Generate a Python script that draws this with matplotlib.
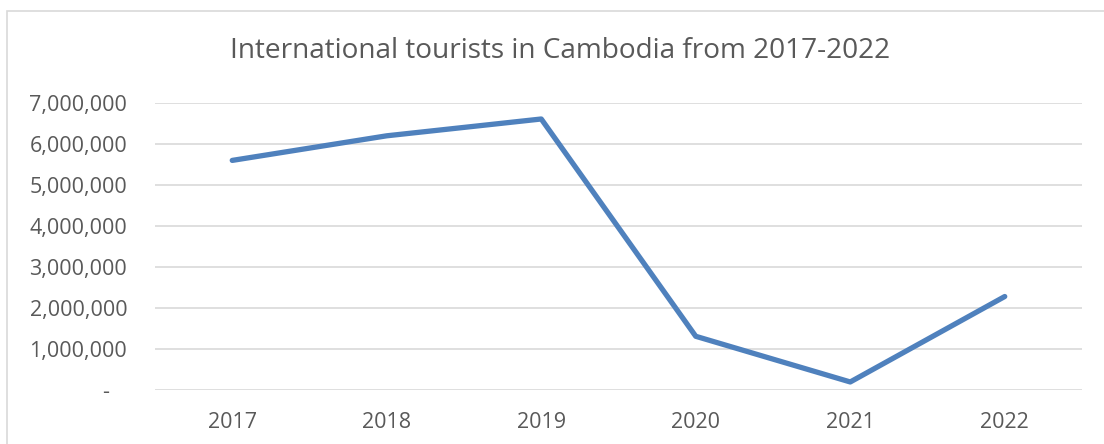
import matplotlib.pyplot as plt
from matplotlib.patches import Rectangle
from matplotlib.ticker import FuncFormatter

years = ["2017", "2018", "2019", "2020", "2021", "2022"]
tourists = [5600000, 6200000, 6610000, 1310000, 196000, 2280000]
y_ticks = [0, 1000000, 2000000, 3000000, 4000000, 5000000, 6000000, 7000000]

W, H = 1104, 444
fig = plt.figure(figsize=(W / 100, H / 100), dpi=100)
plt.rcParams["font.family"] = ["Open Sans", "DejaVu Sans"]

# outer chart frame (cropped on the right and bottom)
fig.patches.append(Rectangle((7 / W, -0.1), 1.2, 1 - 11 / H + 0.1,
                             transform=fig.transFigure, fill=False,
                             edgecolor="#d9d9d9", linewidth=1.2))

ax = fig.add_axes([155 / W, 1 - 390 / H, (1082 - 155) / W, (390 - 103) / H])
x = range(len(years))
ax.plot(x, tourists, color="#4f81bd", linewidth=3.8, solid_capstyle="round",
        solid_joinstyle="round", zorder=3)

ax.set_xlim(-0.5, len(years) - 0.5)
ax.set_ylim(0, 7000000)
ax.set_xticks(list(x))
ax.set_xticklabels(years)
ax.set_yticks(y_ticks)
# accounting style: zero shown as a dash, padded on the right
ax.yaxis.set_major_formatter(FuncFormatter(lambda v, p: "-   " if v == 0 else f"{int(v):,}"))
ax.grid(axis="y", color="#d9d9d9", linewidth=1.2)
ax.set_axisbelow(True)
for s in ax.spines.values():
    s.set_visible(False)
ax.tick_params(length=0, labelsize=15.5, labelcolor="#595959")
ax.tick_params(axis="y", pad=20)
ax.tick_params(axis="x", pad=16)

fig.text(560 / W, 1 - 51 / H, "International tourists in Cambodia from 2017-2022",
         ha="center", va="center", fontsize=20.2, color="#595959")

fig.savefig("out.png", dpi=100)
